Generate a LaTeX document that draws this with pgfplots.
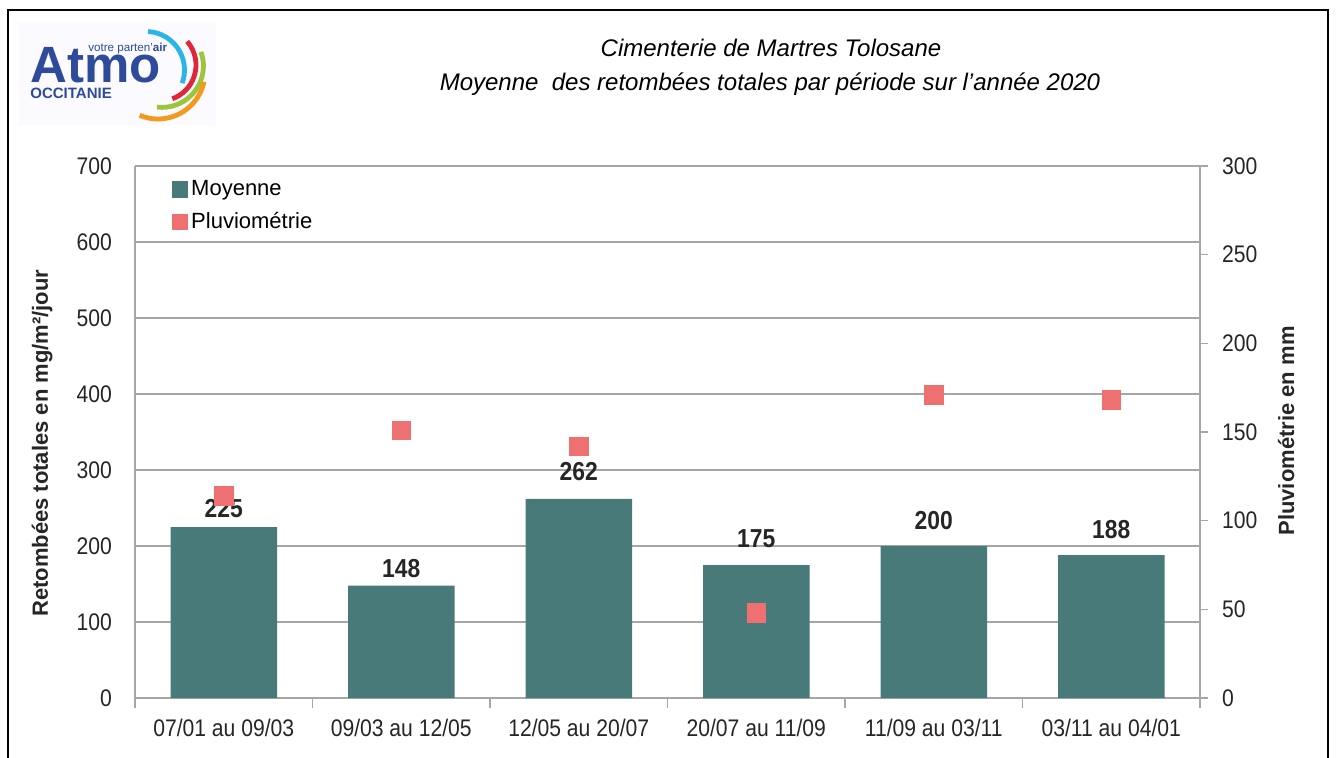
\documentclass[border=0pt]{standalone}
\usepackage{pgfplots}
\usepackage{pgfplotstable}
\pgfplotsset{compat=1.18}
\usepackage{fontspec}
\setmainfont{Liberation Sans}
\newfontfamily\narrow{Liberation Sans}[FakeStretch=0.88]
\definecolor{barc}{HTML}{487A7A}
\definecolor{rainc}{HTML}{EE7070}
\definecolor{gridc}{HTML}{A6A6A6}
\definecolor{atmoblue}{HTML}{2E4A9A}
\definecolor{lcyan}{HTML}{2BB5E6}
\definecolor{lred}{HTML}{E2263A}
\definecolor{lgreen}{HTML}{9BC53D}
\definecolor{lorange}{HTML}{F39A1E}
\pgfplotstableread{
x y off
0 225 9
1 148 8.5
2 262 13.5
3 175 13
4 200 12.5
5 188 13
}\moyenne
\pgfplotstableread{
x y
0 114
1 151
2 142
3 48
4 171
5 168
}\pluie
\begin{document}
\begin{tikzpicture}
\path[use as bounding box] (0,0) rectangle (668pt,-379pt);
% frame
\draw[black, line width=1pt] (4pt,-380pt) -- (4pt,-5pt) -- (664pt,-5pt) -- (664pt,-380pt);
% logo
\fill[blue!2!white] (9pt,-11pt) rectangle (108pt,-62.5pt);
\node[anchor=base west, inner sep=0pt, text height=18pt, text depth=0pt, text=atmoblue, font=\bfseries\fontsize{25.5}{27}\selectfont] at (15pt,-41.5pt) {Atmo};
\node[anchor=base west, inner sep=0pt, text height=4.2pt, text depth=0pt, text=atmoblue, font=\fontsize{5.8}{6.5}\selectfont] at (44pt,-25.8pt) {votre parten'\textbf{air}};
\node[anchor=base west, inner sep=0pt, text height=5.4pt, text depth=0pt, text=atmoblue, font=\bfseries\fontsize{7.5}{8}\selectfont] at (15pt,-49.5pt) {OCCITANIE};
\draw[lcyan, line width=2.4pt] (73pt,-35pt) ++(87:19.25pt) arc[start angle=87, end angle=-20, radius=19.25pt];
\draw[lred, line width=2.4pt] (80pt,-32.5pt) ++(41:18pt) arc[start angle=41, end angle=-70, radius=18pt];
\draw[lgreen, line width=2.4pt] (81pt,-33pt) ++(20:20.7pt) arc[start angle=20, end angle=-97, radius=20.7pt];
\draw[lorange, line width=2.4pt] (79pt,-36pt) ++(-12:23.5pt) arc[start angle=-12, end angle=-113, radius=23.5pt];
% title
\node[font=\itshape\fontsize{12}{14}\selectfont] at (385.5pt,-24pt) {Cimenterie de Martres Tolosane};
\node[font=\itshape\fontsize{12}{14}\selectfont] at (385pt,-42pt) {Moyenne\ \ des retombées totales par période sur l'année 2020};

\begin{axis}[
  at={(67.5pt,-349pt)}, anchor=south west,
  scale only axis, width=532.5pt, height=266pt,
  xmin=-0.5, xmax=5.5, ymin=0, ymax=700,
  axis x line*=bottom, axis y line*=left,
  axis line style={gridc, line width=0.8pt, -},
  xtick={0,...,5},
  xticklabels={07/01 au 09/03, 09/03 au 12/05, 12/05 au 20/07, 20/07 au 11/09, 11/09 au 03/11, 03/11 au 04/01},
  minor xtick={-0.5,0.5,1.5,2.5,3.5,4.5,5.5},
  ytick={0,100,...,700},
  /pgf/number format/assume math mode=true,
  major tick length=0pt, minor tick length=5pt, tick align=outside,
  tick style={gridc, line width=0.8pt},
  ymajorgrids, grid style={gridc, line width=0.8pt},
  ticklabel style={font=\narrow\fontsize{12}{14}\selectfont, text=black!85},
  xticklabel style={yshift=-7pt},
  yticklabel style={xshift=-8pt},
  ylabel={Retombées totales en mg/m²/jour},
  ylabel style={at={(axis description cs:-0.0873,0.479)}, anchor=center, font=\bfseries\fontsize{11}{13}\selectfont, text=black!85},
  legend style={at={(0.0325,0.985)}, anchor=north west, draw=none, fill=none, font=\fontsize{11}{13}\selectfont, row sep=3pt, inner sep=1pt},
  legend cell align=left,
]
\addplot[ybar, bar width=53.25pt, fill=barc, draw=none, forget plot,
  nodes near coords,
  visualization depends on={\thisrow{off} \as \off},
  every node near coord/.append style={anchor=center, yshift=\off pt, font=\narrow\bfseries\fontsize{13}{15}\selectfont, text=black!85}]
  table[x=x, y=y] {\moyenne};
\addlegendimage{only marks, mark=square*, mark size=3.8pt, barc}
\addlegendentry{Moyenne}
\addlegendimage{only marks, mark=square*, mark size=3.8pt, rainc}
\addlegendentry{Pluviométrie}
\end{axis}

\begin{axis}[
  at={(67.5pt,-349pt)}, anchor=south west,
  scale only axis, width=532.5pt, height=266pt,
  xmin=-0.5, xmax=5.5, ymin=0, ymax=300,
  axis x line=none, axis y line*=right,
  axis line style={gridc, line width=0.8pt, -},
  ytick={0,50,...,300},
  /pgf/number format/assume math mode=true,
  major tick length=4pt, tick align=outside,
  tick style={gridc, line width=0.8pt},
  ticklabel style={font=\narrow\fontsize{12}{14}\selectfont, text=black!85},
  yticklabel style={xshift=3.5pt},
  ylabel={Pluviométrie en mm},
  ylabel style={at={(axis description cs:1.0808,0.502)}, anchor=center, font=\bfseries\fontsize{11}{13}\selectfont, text=black!85},
]
\addplot[only marks, mark=square*, mark size=4.6pt, color=rainc] table[x=x, y=y] {\pluie};
\end{axis}
\end{tikzpicture}
\end{document}
